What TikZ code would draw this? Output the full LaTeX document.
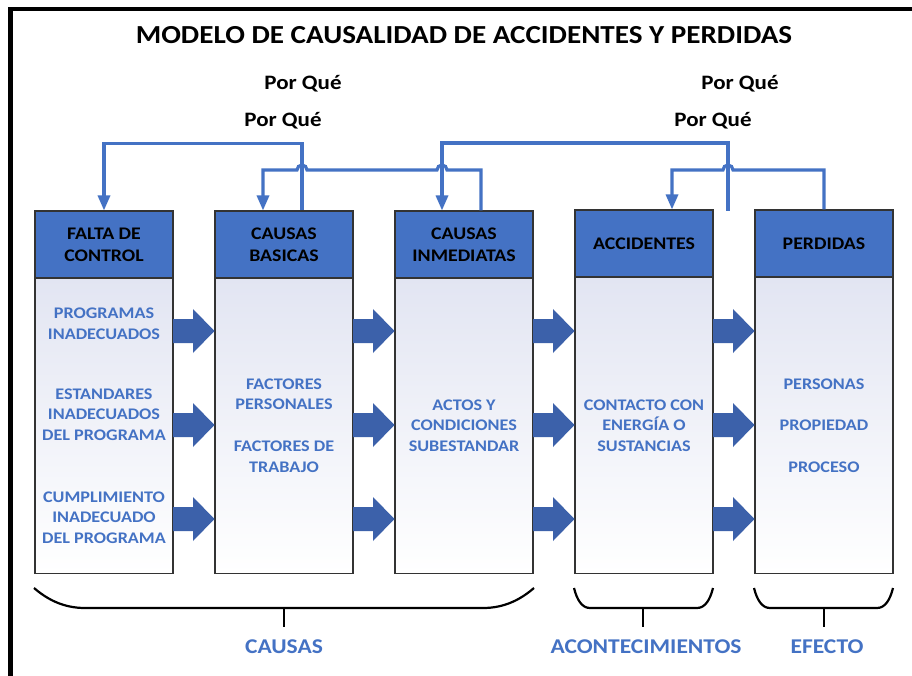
\documentclass[tikz,border=0pt]{standalone}
\usepackage{fontspec}
\setmainfont{Carlito}[FakeStretch=1.12]
\usetikzlibrary{arrows.meta,calc}
\definecolor{hblue}{HTML}{4472C4}
\definecolor{ablue}{HTML}{3C61AA}
\definecolor{lav}{HTML}{E2E5F2}
\definecolor{lavmid}{HTML}{F3F4FA}
\begin{document}
\begin{tikzpicture}[x=1pt,y=-1pt,
  hdr/.style={draw=black!80, line width=1.1pt, fill=hblue, minimum width=138pt, minimum height=67pt, inner sep=0pt, align=center, text=black, font=\bfseries\fontsize{17.7}{22}\selectfont},
  bodybox/.style={draw=black!80, line width=1.1pt, minimum width=138pt, minimum height=296pt, inner sep=0pt, top color=lav, middle color=lavmid, bottom color=white},
  btext/.style={text=hblue, align=center, inner sep=0pt, font=\bfseries\fontsize{16.2}{20.6}\selectfont},
  porque/.style={text=black, inner sep=0pt, anchor=base, font=\bfseries\fontsize{20.5}{24}\selectfont},
  grp/.style={text=hblue, inner sep=0pt, anchor=base, font=\bfseries\fontsize{21}{26}\selectfont},
  conn/.style={draw=hblue, line width=3.2pt, -{Triangle[width=12pt,length=15pt]}},
  bracestyle/.style={draw=black, line width=2.2pt},
  tickstyle/.style={draw=black, line width=2.8pt}
]
\useasboundingbox (0,0) rectangle (912,676);
\fill[white] (0,0) rectangle (912,676);
% outer frame
\draw[line width=4.5pt] (10.5,676) -- (10.5,9) -- (912,9);

% title
\node[inner sep=0pt, anchor=base, font=\bfseries\fontsize{26}{30}\selectfont] (title) at (464,44) {MODELO DE CAUSALIDAD DE ACCIDENTES Y PERDIDAS};

% Por Que labels
\node[porque] (pq1) at (303,90) {Por Qué};
\node[porque] (pq2) at (283,127) {Por Qué};
\node[porque] (pq3) at (740,90) {Por Qué};
\node[porque] (pq4) at (713,127) {Por Qué};

% boxes
\foreach \i/\cx in {1/104,2/284,3/464,4/644,5/824}{
  \node[bodybox, anchor=north] (b\i) at (\cx,277) {};
}
\node[hdr] (h1) at (104,244.5) {FALTA DE\\CONTROL};
\node[hdr] (h2) at (284,244.5) {CAUSAS\\BASICAS};
\node[hdr] (h3) at (464,244.5) {CAUSAS\\INMEDIATAS};
\node[hdr] (h4) at (644,243.5) {ACCIDENTES};
\node[hdr] (h5) at (824,243.5) {PERDIDAS};

% body texts
\node[btext] (t11) at (104,323.5) {PROGRAMAS\\INADECUADOS};
\node[btext] (t12) at (104,414.5) {ESTANDARES\\INADECUADOS\\DEL PROGRAMA};
\node[btext] (t13) at (104,517.5) {CUMPLIMIENTO\\INADECUADO\\DEL PROGRAMA};
\node[btext] (t2) at (284,425.5) {FACTORES\\PERSONALES\\[21pt]FACTORES DE\\TRABAJO};
\node[btext] (t3) at (464,425.5) {ACTOS Y\\CONDICIONES\\SUBESTANDAR};
\node[btext] (t4) at (644,425.5) {CONTACTO CON\\ENERGÍA O\\SUSTANCIAS};
\node[btext] (t5) at (824,425.5) {PERSONAS\\[21pt]PROPIEDAD\\[21pt]PROCESO};

% block arrows
\foreach \x in {173,353,533,713}{
  \foreach \y in {331,425,519}{
    \fill[ablue] (\x,\y-12) -- (\x+20,\y-12) -- (\x+20,\y-22) -- (\x+41.5,\y) -- (\x+20,\y+22) -- (\x+20,\y+12) -- (\x,\y+12) -- cycle;
  }
}

% feedback connectors
\coordinate (gap) at (728,211);
\draw[conn] ([xshift=18pt]h2.north) -- ++(0,-67) -| (h1.north);
\draw[conn] (gap) -- (728,143) -| ([xshift=-22pt]h3.north);
\draw[conn] ([xshift=17pt]h3.north) -- (481,170) -- (447,170)
   arc[start angle=0,end angle=-180,radius=5] -- (307,170)
   arc[start angle=0,end angle=-180,radius=5] -- (263,170) -- ([xshift=-21pt]h2.north);
\draw[conn] (h5.north) -- (824,170) -- (733,170)
   arc[start angle=0,end angle=-180,radius=5] -- (672,170) -- ([xshift=28pt]h4.north);

% braces
\draw[bracestyle] (34,588) .. controls (48,600) and (64,608) .. (85,608) -- (483,608) .. controls (504,608) and (520,600) .. (534,588);
\draw[tickstyle] (284,608) -- (284,627);
\draw[bracestyle] (574,588) .. controls (577,600) and (582,608) .. (590,608) -- (697,608) .. controls (705,608) and (710,600) .. (713,588);
\draw[tickstyle] (643,608) -- (643,627);
\draw[bracestyle] (754,588) .. controls (757,600) and (762,608) .. (770,608) -- (877,608) .. controls (885,608) and (890,600) .. (893,588);
\draw[tickstyle] (824,608) -- (824,627);

\node[grp] (causas) at (284,653) {CAUSAS};
\node[grp] (acont) at (646,653) {ACONTECIMIENTOS};
\node[grp] (efecto) at (827,653) {EFECTO};
\end{tikzpicture}
\end{document}
